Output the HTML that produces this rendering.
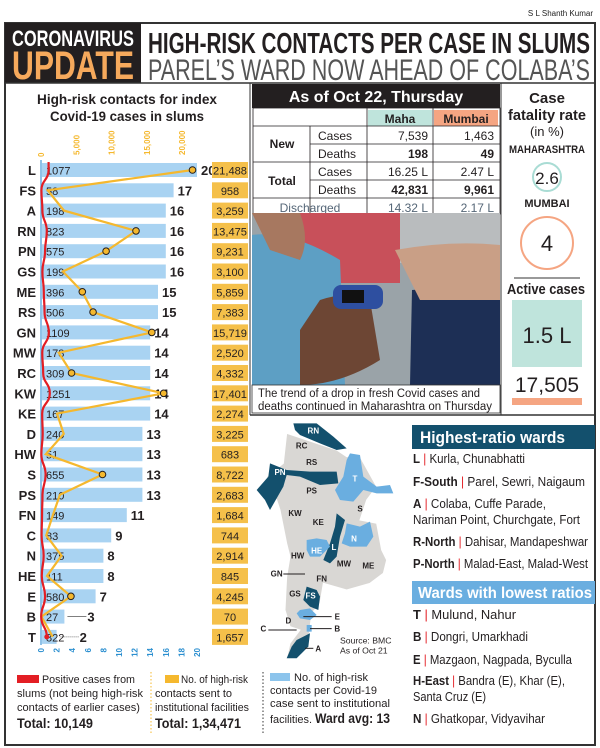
<!DOCTYPE html>
<html><head><meta charset="utf-8"><style>
html,body{margin:0;padding:0;background:#fff;}
svg{display:block;font-family:"Liberation Sans Narrow","Liberation Sans",sans-serif;}
</style></head><body>
<svg id="g" width="600" height="748" viewBox="0 0 600 748">
<rect x="0" y="0" width="600" height="748" fill="#fff"/>
<text x="593" y="16" font-size="8" text-anchor="end" fill="#222">S L Shanth Kumar</text>
<rect x="5" y="23" width="590" height="722" fill="none" stroke="#333" stroke-width="2"/>
<rect x="5" y="23" width="136" height="60" fill="#231f20"/>
<text x="12" y="46" font-size="22" font-weight="bold" fill="#fff" textLength="122" lengthAdjust="spacingAndGlyphs">CORONAVIRUS</text>
<text x="12" y="79" font-size="40" font-weight="bold" fill="#f6a95c" textLength="122" lengthAdjust="spacingAndGlyphs">UPDATE</text>
<text x="148" y="53" font-size="29" font-weight="bold" fill="#231f20" textLength="442" lengthAdjust="spacingAndGlyphs">HIGH-RISK CONTACTS PER CASE IN SLUMS</text>
<text x="148" y="80" font-size="30" fill="#555" textLength="442" lengthAdjust="spacingAndGlyphs">PAREL’S WARD NOW AHEAD OF COLABA’S</text>
<line x1="5" y1="83" x2="595" y2="83" stroke="#333" stroke-width="1.5"/>
<line x1="250" y1="83" x2="250" y2="415" stroke="#333" stroke-width="1"/>
<line x1="250" y1="415" x2="595" y2="415" stroke="#333" stroke-width="1.5"/>
<line x1="501" y1="83" x2="501" y2="415" stroke="#333" stroke-width="1"/>

<text x="37" y="104" font-size="14" font-weight="bold" fill="#231f20" textLength="180" lengthAdjust="spacingAndGlyphs">High-risk contacts for index</text>
<text x="50" y="121" font-size="14" font-weight="bold" fill="#231f20" textLength="154" lengthAdjust="spacingAndGlyphs">Covid-19 cases in slums</text>
<g id="chart"></g>

<!-- legend -->
<rect x="17" y="675" width="22" height="8" fill="#e31e24"/>
<text x="42" y="683" font-size="11" fill="#231f20" textLength="93" lengthAdjust="spacingAndGlyphs">Positive cases from</text>
<text x="17" y="697" font-size="11" fill="#231f20" textLength="126" lengthAdjust="spacingAndGlyphs">slums (not being high-risk</text>
<text x="17" y="711" font-size="11" fill="#231f20" textLength="123" lengthAdjust="spacingAndGlyphs">contacts of earlier cases)</text>
<text x="17" y="728" font-size="14" font-weight="bold" fill="#231f20" textLength="76" lengthAdjust="spacingAndGlyphs">Total: 10,149</text>
<line x1="151" y1="672" x2="151" y2="735" stroke="#f5b82e" stroke-dasharray="1.5,2"/>
<rect x="165" y="675" width="14" height="8" fill="#f5b82e"/>
<text x="181" y="683" font-size="11" fill="#231f20" textLength="67" lengthAdjust="spacingAndGlyphs">No. of high-risk</text>
<text x="155" y="697" font-size="11" fill="#231f20" textLength="77" lengthAdjust="spacingAndGlyphs">contacts sent to</text>
<text x="155" y="711" font-size="11" fill="#231f20" textLength="94" lengthAdjust="spacingAndGlyphs">institutional facilities</text>
<text x="155" y="728" font-size="14" font-weight="bold" fill="#231f20" textLength="86" lengthAdjust="spacingAndGlyphs">Total: 1,34,471</text>
<line x1="263" y1="672" x2="263" y2="735" stroke="#333" stroke-dasharray="1.5,2"/>
<rect x="270" y="673" width="20" height="8" fill="#8cc4ec"/>
<text x="294" y="681" font-size="11" fill="#231f20" textLength="74" lengthAdjust="spacingAndGlyphs">No. of high-risk</text>
<text x="270" y="694" font-size="11" fill="#231f20" textLength="107" lengthAdjust="spacingAndGlyphs">contacts per Covid-19</text>
<text x="270" y="707" font-size="11" fill="#231f20" textLength="120" lengthAdjust="spacingAndGlyphs">case sent to institutional</text>
<text x="270" y="723" font-size="11" fill="#231f20" textLength="42" lengthAdjust="spacingAndGlyphs">facilities.</text>
<text x="315" y="723" font-size="14" font-weight="bold" fill="#231f20" textLength="75" lengthAdjust="spacingAndGlyphs">Ward avg: 13</text>

<!-- table -->
<g>
<rect x="252" y="84" width="248" height="24" fill="#231f20"/>
<text x="376" y="102" font-size="16" font-weight="bold" fill="#fff" text-anchor="middle">As of Oct 22, Thursday</text>
<rect x="368" y="110" width="64" height="16" fill="#bfe4dc"/>
<rect x="434" y="110" width="64" height="16" fill="#f5a582"/>
<text x="400" y="123" font-size="12" font-weight="bold" text-anchor="middle" fill="#231f20">Maha</text>
<text x="466" y="123" font-size="12" font-weight="bold" text-anchor="middle" fill="#231f20">Mumbai</text>
<g stroke="#231f20" stroke-width="0.8" fill="none">
<rect x="253" y="108" width="247" height="106"/>
<line x1="310" y1="126" x2="310" y2="214"/><line x1="367" y1="108" x2="367" y2="214"/><line x1="433" y1="108" x2="433" y2="214"/>
<line x1="253" y1="126" x2="500" y2="126"/><line x1="310" y1="144" x2="500" y2="144"/><line x1="253" y1="162" x2="500" y2="162"/><line x1="310" y1="180" x2="500" y2="180"/><line x1="253" y1="198" x2="500" y2="198"/>
</g>
<g font-size="12" fill="#231f20">
<text x="282" y="148" font-weight="bold" text-anchor="middle">New</text>
<text x="282" y="185" font-weight="bold" text-anchor="middle">Total</text>
<text x="318" y="140">Cases</text><text x="318" y="158">Deaths</text>
<text x="318" y="176">Cases</text><text x="318" y="194">Deaths</text>
<text x="428" y="140" text-anchor="end">7,539</text><text x="494" y="140" text-anchor="end">1,463</text>
<text x="428" y="158" text-anchor="end" font-weight="bold">198</text><text x="494" y="158" text-anchor="end" font-weight="bold">49</text>
<text x="428" y="176" text-anchor="end">16.25 L</text><text x="494" y="176" text-anchor="end">2.47 L</text>
<text x="428" y="194" text-anchor="end" font-weight="bold">42,831</text><text x="494" y="194" text-anchor="end" font-weight="bold">9,961</text>
<text x="310" y="212" text-anchor="middle" fill="#567">Discharged</text>
<text x="428" y="212" text-anchor="end" fill="#567">14.32 L</text><text x="494" y="212" text-anchor="end" fill="#567">2.17 L</text>
</g></g>

<!-- photo -->
<g>
<rect x="252" y="213" width="248" height="172" fill="#9aa3a8"/>
<rect x="290" y="213" width="110" height="70" fill="#c8505a"/>
<rect x="400" y="213" width="100" height="50" fill="#b9bcbe"/>
<path d="M252 235 Q290 230 340 260 L345 385 L252 385 Z" fill="#5d9fc4"/>
<path d="M412 290 Q470 285 500 300 L500 385 L410 385 Z" fill="#1d2f55"/>
<path d="M395 250 Q450 240 500 245 L500 300 Q450 300 420 300 Z" fill="#c99f86"/>
<path d="M320 300 Q350 290 370 300 L380 360 Q340 385 300 385 L300 330 Z" fill="#6d4634"/>
<rect x="333" y="285" width="50" height="24" rx="8" fill="#2e4fa0"/>
<rect x="342" y="290" width="22" height="13" fill="#111"/>
<path d="M252 213 L300 213 Q310 240 300 260 L270 250 Z" fill="#a77860"/>
</g>
<rect x="252" y="385" width="248" height="28" fill="#fff" stroke="#333" stroke-width="0.8"/>
<text x="258" y="397" font-size="11.5" fill="#231f20" textLength="222" lengthAdjust="spacingAndGlyphs">The trend of a drop in fresh Covid cases and</text>
<text x="258" y="410" font-size="11.5" fill="#231f20" textLength="234" lengthAdjust="spacingAndGlyphs">deaths continued in Maharashtra on Thursday</text>

<!-- right stats -->
<g fill="#231f20" text-anchor="middle">
<text x="547" y="103" font-size="15" font-weight="bold">Case</text>
<text x="547" y="120" font-size="15" font-weight="bold" textLength="78" lengthAdjust="spacingAndGlyphs">fatality rate</text>
<text x="547" y="136" font-size="13">(in %)</text>
<text x="547" y="153" font-size="11" font-weight="bold" textLength="76" lengthAdjust="spacingAndGlyphs">MAHARASHTRA</text>
<circle cx="547" cy="177" r="14" fill="none" stroke="#a9dcd4" stroke-width="2"/>
<text x="547" y="184" font-size="17">2.6</text>
<text x="547" y="207" font-size="11" font-weight="bold">MUMBAI</text>
<circle cx="547" cy="243" r="26" fill="none" stroke="#f5a582" stroke-width="2"/>
<text x="547" y="251" font-size="22">4</text>
<line x1="514" y1="278" x2="580" y2="278" stroke="#333"/>
<text x="546" y="294" font-size="15" font-weight="bold" textLength="78" lengthAdjust="spacingAndGlyphs">Active cases</text>
<rect x="512" y="300" width="70" height="67" fill="#bfe4dc"/>
<text x="547" y="343" font-size="22">1.5 L</text>
<text x="547" y="392" font-size="21">17,505</text>
<rect x="512" y="398" width="70" height="7" fill="#f5a582"/>
</g>

<!-- map -->
<g transform="translate(250,410) scale(0.3333)">
<path d="M110 70 L260 120 L290 140 L330 140 L380 230 L350 270 L330 330 L380 340 L395 420 L410 450 L400 490 L360 520 L290 540 L220 520 L210 580 L185 610 L175 700 L110 745 L120 700 L150 660 L120 650 L105 600 L110 500 L120 440 L110 400 L90 300 L80 270 L60 240 L50 200 L100 160 Z" fill="#d9d7d4" stroke="#fff" stroke-width="3"/>
<path d="M130 40 L200 40 L250 80 L290 115 L260 120 L210 100 L150 75 L135 60 Z" fill="#13506d"/>
<path d="M60 160 L110 180 L180 185 L260 185 L265 220 L210 225 L150 200 L110 195 L100 230 L60 300 L45 270 L20 240 L55 200 Z" fill="#13506d"/>
<path d="M300 130 L330 135 L340 200 L380 230 L420 225 L430 250 L380 250 L340 240 L310 275 L270 270 L255 240 L280 200 L290 150 Z" fill="#6aaee0"/>
<path d="M260 310 L285 330 L270 380 L260 440 L240 460 L220 450 L240 400 L255 350 Z" fill="#13506d"/>
<path d="M290 340 L330 350 L360 335 L370 380 L350 410 L300 410 L275 400 L285 370 Z" fill="#6aaee0"/>
<path d="M170 390 L200 385 L230 390 L240 410 L210 440 L180 440 L170 420 Z" fill="#6aaee0"/>
<path d="M170 530 L200 540 L210 560 L205 600 L180 590 L160 570 Z" fill="#13506d"/>
<path d="M150 600 L180 595 L200 615 L180 630 L150 625 L140 610 Z" fill="#6aaee0"/>
<path d="M170 645 L185 645 L185 665 L170 665 Z" fill="#6aaee0"/>
<path d="M140 690 L180 670 L175 710 L140 745 L110 745 L125 710 Z" fill="#13506d"/>
<g font-size="24" font-weight="bold" fill="#231f20" text-anchor="middle">
<text x="190" y="70" fill="#fff">RN</text><text x="155" y="115">RC</text><text x="185" y="165">RS</text>
<text x="90" y="195" fill="#fff">PN</text><text x="315" y="215" fill="#fff">T</text><text x="185" y="250">PS</text>
<text x="135" y="318">KW</text><text x="205" y="345">KE</text><text x="330" y="305">S</text>
<text x="312" y="395" fill="#fff">N</text><text x="143" y="445">HW</text><text x="200" y="430" fill="#fff">HE</text>
<text x="252" y="420" fill="#fff">L</text><text x="282" y="470">MW</text><text x="355" y="475">ME</text>
<text x="80" y="500">GN</text><text x="215" y="515">FN</text><text x="135" y="560">GS</text>
<text x="182" y="565" fill="#fff">FS</text><text x="115" y="640">D</text><text x="40" y="665">C</text>
<text x="262" y="628">E</text><text x="262" y="665">B</text><text x="205" y="725">A</text>
</g>
<g stroke="#231f20" stroke-width="3"><line x1="100" y1="492" x2="165" y2="492"/><line x1="160" y1="620" x2="245" y2="620"/><line x1="180" y1="656" x2="245" y2="656"/><line x1="55" y1="660" x2="140" y2="660"/><line x1="165" y1="715" x2="190" y2="715"/></g>
<text x="270" y="700" font-size="26" fill="#231f20">Source: BMC</text>
<text x="270" y="730" font-size="26" fill="#231f20">As of Oct 21</text>
</g>

<!-- ward lists -->
<g font-size="13" fill="#231f20">
<rect x="412" y="425" width="183" height="24" fill="#13506d"/>
<text x="420" y="443" font-size="17" font-weight="bold" fill="#fff" textLength="145" lengthAdjust="spacingAndGlyphs">Highest-ratio wards</text>
<text x="413" y="463" textLength="112" lengthAdjust="spacingAndGlyphs"><tspan font-weight="bold">L</tspan><tspan fill="#e31e24"> | </tspan>Kurla, Chunabhatti</text>
<text x="413" y="486" textLength="172" lengthAdjust="spacingAndGlyphs"><tspan font-weight="bold">F-South</tspan><tspan fill="#e31e24"> | </tspan>Parel, Sewri, Naigaum</text>
<text x="413" y="508" textLength="133" lengthAdjust="spacingAndGlyphs"><tspan font-weight="bold">A</tspan><tspan fill="#e31e24"> | </tspan>Colaba, Cuffe Parade,</text>
<text x="413" y="524" textLength="167" lengthAdjust="spacingAndGlyphs">Nariman Point, Churchgate, Fort</text>
<text x="413" y="546" textLength="175" lengthAdjust="spacingAndGlyphs"><tspan font-weight="bold">R-North</tspan><tspan fill="#e31e24"> | </tspan>Dahisar, Mandapeshwar</text>
<text x="413" y="568" textLength="175" lengthAdjust="spacingAndGlyphs"><tspan font-weight="bold">P-North</tspan><tspan fill="#e31e24"> | </tspan>Malad-East, Malad-West</text>
<rect x="412" y="581" width="183" height="23" fill="#6aaee0"/>
<text x="418" y="598" font-size="16" font-weight="bold" fill="#fff" textLength="174" lengthAdjust="spacingAndGlyphs">Wards with lowest ratios</text>
<text x="413" y="619" textLength="103" lengthAdjust="spacingAndGlyphs"><tspan font-weight="bold">T</tspan><tspan fill="#e31e24"> | </tspan>Mulund, Nahur</text>
<text x="413" y="641" textLength="115" lengthAdjust="spacingAndGlyphs"><tspan font-weight="bold">B</tspan><tspan fill="#e31e24"> | </tspan>Dongri, Umarkhadi</text>
<text x="413" y="664" textLength="159" lengthAdjust="spacingAndGlyphs"><tspan font-weight="bold">E</tspan><tspan fill="#e31e24"> | </tspan>Mazgaon, Nagpada, Byculla</text>
<text x="413" y="685" textLength="152" lengthAdjust="spacingAndGlyphs"><tspan font-weight="bold">H-East</tspan><tspan fill="#e31e24"> | </tspan>Bandra (E), Khar (E),</text>
<text x="413" y="701" textLength="73" lengthAdjust="spacingAndGlyphs">Santa Cruz (E)</text>
<text x="413" y="723" textLength="132" lengthAdjust="spacingAndGlyphs"><tspan font-weight="bold">N</tspan><tspan fill="#e31e24"> | </tspan>Ghatkopar, Vidyavihar</text>
</g>
</svg>
<script>
const wards = ["L","FS","A","RN","PN","GS","ME","RS","GN","MW","RC","KW","KE","D","HW","S","PS","FN","C","N","HE","E","B","T"];
const positives = [1077,58,198,823,575,199,396,506,1109,178,309,1251,167,240,51,655,210,149,83,375,111,580,27,822];
const ratios = [20,17,16,16,16,16,15,15,14,14,14,14,14,13,13,13,13,11,9,8,8,7,3,2];
const contacts = [21488,958,3259,13475,9231,3100,5859,7383,15719,2520,4332,17401,2274,3225,683,8722,2683,1684,744,2914,845,4245,70,1657];
const contactLabels = ["21,488","958","3,259","13,475","9,231","3,100","5,859","7,383","15,719","2,520","4,332","17,401","2,274","3,225","683","8,722","2,683","1,684","744","2,914","845","4,245","70","1,657"];
const markedPoints = [1,0,0,1,1,0,1,1,1,0,1,1,0,0,0,1,0,0,0,0,0,1,0,0];
const topTicks = [0,5000,10000,15000,20000];
const topTickLabels = ["0","5,000","10,000","15,000","20,000"];
const bottomTicks = [0,2,4,6,8,10,12,14,16,18,20];

const NS="http://www.w3.org/2000/svg";
const g=document.getElementById('chart');
const x0=41;
const xTop=v=>x0+v*0.00705;
const xRatio=v=>x0+v*7.8;
const yRow=i=>170+i*20.3;
function mk(tag,attrs,parent){const e=document.createElementNS(NS,tag);for(const k in attrs)e.setAttribute(k,attrs[k]);(parent||g).appendChild(e);return e;}

mk('line',{x1:x0,y1:160,x2:x0,y2:645,stroke:'#6aaee0','stroke-width':1.5});
topTicks.forEach((t,i)=>{
  const tx=mk('text',{x:0,y:0,'font-size':8,fill:'#f5b82e','font-weight':'bold',transform:`translate(${xTop(t)+3},${i==0?157:155}) rotate(-90)`});
  
  
  tx.textContent=topTickLabels[i];
});
bottomTicks.forEach(t=>{
  const tx=mk('text',{x:0,y:0,'font-size':8,fill:'#2b8fd0','font-weight':'bold','text-anchor':'end',transform:`translate(${xRatio(t)+3},${648}) rotate(-90)`});
  
  
  tx.textContent=t;
});
wards.forEach((w,i)=>{
  const y=yRow(i);
  const b=mk('rect',{x:x0+1,y:y-7,width:xRatio(ratios[i])-x0-1,height:14,fill:'#a9d3f2'});
  
  
  const lab=mk('text',{x:36,y:y+5,'font-size':13,'font-weight':'bold','text-anchor':'end',fill:'#231f20'});
  
  
  lab.textContent=w;
  const pv=mk('text',{x:46,y:y+4.5,'font-size':11,fill:'#231f20'});
  
  
  pv.textContent=positives[i];
  let rx=xRatio(ratios[i])+4;
  if(ratios[i]<5){
    mk('line',{x1:xRatio(ratios[i])+3,y1:y,x2:xRatio(ratios[i])+22,y2:y,stroke:'#555','stroke-width':0.8,'stroke-dasharray':ratios[i]<3?'1,1':''});
    rx=xRatio(ratios[i])+23;
  }
  const rv=mk('text',{x:rx,y:y+5,'font-size':13,'font-weight':'bold',fill:'#231f20'});
  
  
  rv.textContent=ratios[i];
  const box=mk('rect',{x:212,y:y-8,width:36,height:16,fill:'#f5c04a'});
  
  
  const cv=mk('text',{x:230,y:y+4.5,'font-size':11,'text-anchor':'middle',fill:'#231f20'});
  if(contactLabels[i].length>5){cv.setAttribute('textLength','34');cv.setAttribute('lengthAdjust','spacingAndGlyphs');}
  
  
  cv.textContent=contactLabels[i];
});
const yl=mk('polyline',{points:contacts.map((c,i)=>xTop(c)+','+yRow(i)).join(' '),fill:'none',stroke:'#f5b82e','stroke-width':2.2});


contacts.forEach((c,i)=>{
  if(markedPoints[i]){
    const p=mk('circle',{cx:xTop(c),cy:yRow(i),r:3.3,fill:'#f5b82e',stroke:'#231f20','stroke-width':1});
    
    
  }
});
let d='M'+xTop(positives[0])+' '+(yRow(0)-8);
positives.forEach((v,i)=>{
  const x=xTop(v),y=yRow(i);
  if(i==0){d+=' L'+x+' '+y;return;}
  const px=xTop(positives[i-1]),py=yRow(i-1);
  d+=` C${px} ${py+10} ${x} ${y-10} ${x} ${y}`;
});
const rl=mk('path',{d:d,fill:'none',stroke:'#e31e24','stroke-width':2.2});


const last=positives.length-1;
const rd=mk('circle',{cx:xTop(positives[last]),cy:yRow(last),r:2.5,fill:'#e31e24'});


</script>
</body></html>
